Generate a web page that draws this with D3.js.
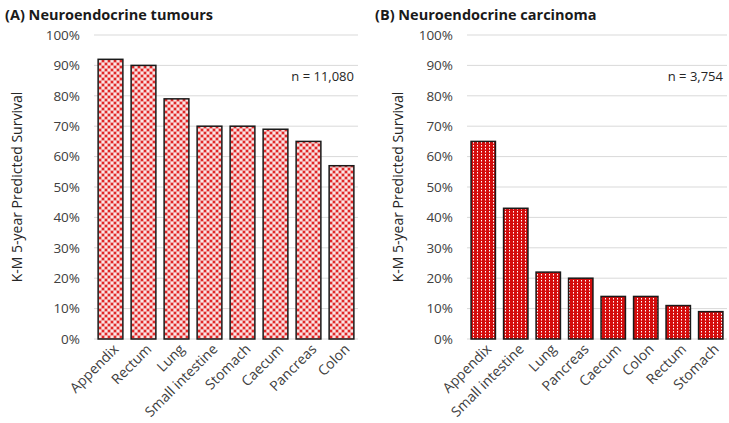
<!DOCTYPE html>
<html><head><meta charset="utf-8">
<script src="https://cdn.jsdelivr.net/npm/d3@7"></script>
<style>body{margin:0;background:#fff}svg{display:block}</style>
</head><body>
<svg id="c" width="729" height="423"></svg>
<script>
const tumourSites = ["Appendix","Rectum","Lung","Small intestine","Stomach","Caecum","Pancreas","Colon"];
const tumourSurvival = [92,90,79,70,70,69,65,57];
const carcinomaSites = ["Appendix","Small intestine","Lung","Pancreas","Caecum","Colon","Rectum","Stomach"];
const carcinomaSurvival = [65,43,22,20,14,14,11,9];
const yTicks = [0,10,20,30,40,50,60,70,80,90,100];
const titles = ["(A) Neuroendocrine tumours","(B) Neuroendocrine carcinoma"];
const counts = ["n = 11,080","n = 3,754"];
const yTitle = "K-M 5-year Predicted Survival";

const FONT = "'Open Sans', sans-serif";
const svg = d3.select("#c");
const defs = svg.append("defs");

// pattern A: pink checker
const pA = defs.append("pattern").attr("id","patA").attr("patternUnits","userSpaceOnUse").attr("width",6).attr("height",6);
pA.append("rect").attr("width",6).attr("height",6).attr("fill","#f0a0a0");
pA.append("rect").attr("x",0).attr("y",0).attr("width",2).attr("height",2).attr("fill","#e02828");
pA.append("rect").attr("x",3).attr("y",3).attr("width",2).attr("height",2).attr("fill","#e02828");
pA.append("rect").attr("x",3).attr("y",0).attr("width",2).attr("height",2).attr("fill","#fbe6e6");
pA.append("rect").attr("x",0).attr("y",3).attr("width",2).attr("height",2).attr("fill","#fbe6e6");
// pattern B: red with white dots
const pB = defs.append("pattern").attr("id","patB").attr("patternUnits","userSpaceOnUse").attr("width",4).attr("height",3);
pB.append("rect").attr("width",4).attr("height",3).attr("fill","#d40c0c");
pB.append("rect").attr("x",1).attr("y",1).attr("width",1).attr("height",1).attr("fill","#ffffff");
pB.append("rect").attr("x",1).attr("y",2).attr("width",1).attr("height",1).attr("fill","#f08a8a");

function panel(cfg){
  const g = svg.append("g");
  const x = d3.scaleBand().domain(cfg.cats).range([cfg.x0, cfg.x1]).paddingInner(0.25).paddingOuter(0.125);
  const y = d3.scaleLinear().domain([0,100]).range([339,35]);

  g.append("g").selectAll("line").data(yTicks).join("line")
    .attr("x1",cfg.x0).attr("x2",cfg.x1)
    .attr("y1",d=>y(d)).attr("y2",d=>y(d))
    .attr("stroke","#d9d9d9").attr("stroke-width",1);

  const ya = d3.axisLeft(y).tickValues(yTicks).tickFormat(d=>d+"%").tickSize(0).tickPadding(0);
  const yg = g.append("g").attr("transform",`translate(${cfg.x0-14},0)`).call(ya);
  yg.select(".domain").remove();
  yg.selectAll("text").attr("font-family",FONT).attr("font-size",13.5).attr("fill","#404040");

  g.append("g").selectAll("rect").data(cfg.vals).join("rect")
    .attr("x",(d,i)=>x(cfg.cats[i])).attr("width",x.bandwidth())
    .attr("y",d=>y(d)).attr("height",d=>y(0)-y(d))
    .attr("fill",`url(#${cfg.pat})`).attr("stroke","#1a1a1a").attr("stroke-width",1.5);

  const xa = d3.axisBottom(x).tickSize(0).tickPadding(0);
  const xg = g.append("g").attr("transform",`translate(0,${y(0)})`).call(xa);
  xg.select(".domain").remove();
  xg.selectAll("text").attr("font-family",FONT).attr("font-size",14).attr("fill","#404040")
    .attr("text-anchor","end").attr("dy",null).attr("y",0)
    .attr("transform","translate(9,11) rotate(-45)");

  g.append("text").attr("transform",`translate(${cfg.yt},187) rotate(-90)`)
    .attr("text-anchor","middle").attr("dominant-baseline","central")
    .attr("font-family",FONT).attr("font-size",14).attr("fill","#262626").text(yTitle);

  g.append("text").attr("x",cfg.tx).attr("y",20).attr("font-family",FONT).attr("font-weight","bold")
    .attr("font-size",14.5).attr("fill","#1a1a1a").text(cfg.title);

  g.append("text").attr("x",cfg.x1-4).attr("y",81).attr("text-anchor","end")
    .attr("font-family",FONT).attr("font-size",13).attr("fill","#262626").text(cfg.n);
}

panel({cats:tumourSites, vals:tumourSurvival, x0:94, x1:358, pat:"patA", yt:16, tx:5, title:titles[0], n:counts[0]});
panel({cats:carcinomaSites, vals:carcinomaSurvival, x0:467, x1:727, pat:"patB", yt:397, tx:375, title:titles[1], n:counts[1]});
</script>
</body></html>
